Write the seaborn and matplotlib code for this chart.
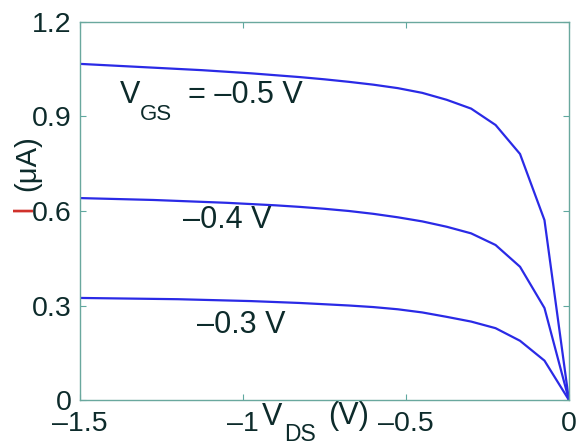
import pandas as pd
import matplotlib
matplotlib.use("Agg")
import matplotlib.pyplot as plt
import seaborn as sns

# drain voltage points (V)
vds = [-1.5, -1.425, -1.35, -1.275, -1.2, -1.125, -1.05, -0.975, -0.9, -0.825,
       -0.75, -0.675, -0.6, -0.525, -0.45, -0.375, -0.3, -0.225, -0.15, -0.075, 0.0]

# drain current (uA) for each gate voltage
id_05 = [1.067, 1.063, 1.059, 1.055, 1.051, 1.047, 1.042, 1.037, 1.031, 1.025,
         1.018, 1.010, 1.001, 0.990, 0.975, 0.953, 0.925, 0.873, 0.781, 0.571, 0.0]
id_04 = [0.641, 0.639, 0.637, 0.635, 0.632, 0.629, 0.626, 0.622, 0.618, 0.613,
         0.607, 0.600, 0.591, 0.580, 0.567, 0.550, 0.529, 0.492, 0.423, 0.292, 0.0]
id_03 = [0.324, 0.323, 0.322, 0.321, 0.320, 0.318, 0.316, 0.314, 0.311, 0.308,
         0.304, 0.300, 0.295, 0.288, 0.278, 0.264, 0.249, 0.228, 0.188, 0.125, 0.0]

vgs_labels = ["-0.5", "-0.4", "-0.3"]

df = pd.concat([
    pd.DataFrame({"vds": vds, "id": id_05, "vgs": vgs_labels[0]}),
    pd.DataFrame({"vds": vds, "id": id_04, "vgs": vgs_labels[1]}),
    pd.DataFrame({"vds": vds, "id": id_03, "vgs": vgs_labels[2]}),
])

sns.set_style("white")
plt.rcParams['font.family'] = ['Liberation Sans', 'DejaVu Sans']

W, H = 577, 445
txt = "#0d2b2b"
fig = plt.figure(figsize=(W / 100, H / 100), dpi=100)
ax = fig.add_axes([0.1386, 0.1011, 0.8474, 0.8495])

sns.lineplot(data=df, x="vds", y="id", hue="vgs", palette=["#2a2ae6"] * 3,
             linewidth=1.6, legend=False, ax=ax, sort=False)

ax.set_xlim(-1.5, 0)
ax.set_ylim(0, 1.2)
ax.set_xticks([-1.5, -1, -0.5, 0])
ax.set_xticklabels(["\u20131.5", "\u20131", "\u20130.5", "0"])
ax.set_yticks([0, 0.3, 0.6, 0.9, 1.2])
ax.set_yticklabels(["0", "0.3", "0.6", "0.9", "1.2"])
ax.tick_params(direction="in", length=4, width=0.8, colors="#5fa8a0",
               labelcolor=txt, labelsize=20.5, pad=6, top=True, right=True,
               bottom=True, left=True)
ax.tick_params(axis="x", pad=8)
for s in ax.spines.values():
    s.set_color("#6aa89e")
    s.set_linewidth(1.0)
ax.set_xlabel("")
ax.set_ylabel("")


def px_text(x, y, s, size, **kw):
    # place text by pixel position (baseline), measured from the top-left
    fig.text(x / W, 1 - y / H, s, fontsize=size, color=kw.pop("color", txt),
             va="baseline", ha="left", **kw)


# curve labels
px_text(120, 103, "V", 22)
px_text(140, 120, "GS", 16)
px_text(188, 103, "= \u20130.5 V", 22)
px_text(183, 228, "\u20130.4 V", 22)
px_text(197, 333, "\u20130.3 V", 22)

# x axis label, its top hidden behind the axes like in the original
px_text(262, 425, "V", 22, zorder=-1)
px_text(284, 441, "DS", 16.5, zorder=-1)
px_text(328, 424, "(V)", 22, zorder=-1)

# y axis label
fig.text(0.047, 0.634, "(\u03bcA)", fontsize=21, color=txt, rotation=90,
         ha="center", va="center")
fig.text(0.04, 0.533, "I", fontsize=21, color="#d0302a", rotation=90,
         ha="center", va="center")

fig.savefig("out.png", dpi=100)
